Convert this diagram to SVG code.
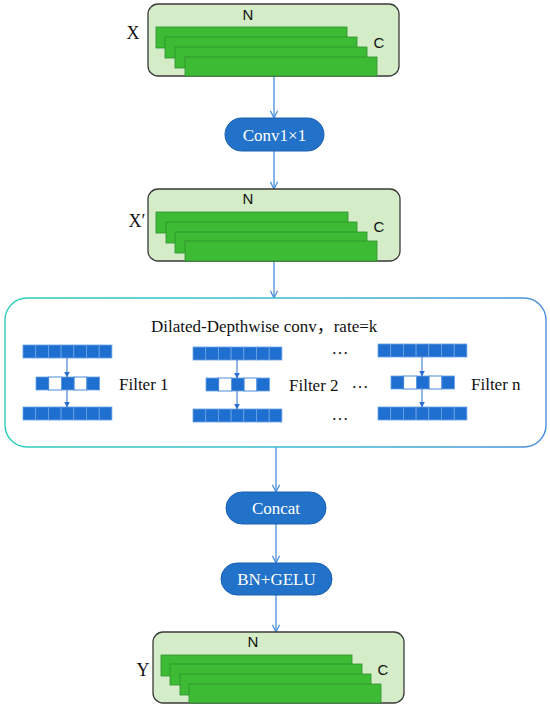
<svg xmlns="http://www.w3.org/2000/svg" xmlns:xlink="http://www.w3.org/1999/xlink" width="550" height="709" viewBox="0 0 550 709">
<style>
.box{fill:#d4ecc7;stroke:#3a3a3a;stroke-width:1.3}
.bar{fill:#3dbb35;stroke:#2d8f2d;stroke-width:0.8}
.lbl{font-family:"Liberation Sans","Open Sans",sans-serif;font-size:15px;fill:#111}
.ser{font-family:"Liberation Serif","Noto Sans CJK SC",serif;fill:#111}
.pill{fill:#2372c9;stroke:#1a5fb0;stroke-width:1}
.pt{font-family:"Liberation Serif",serif;font-size:17px;fill:#fff;text-anchor:middle}
.con{stroke:#4a8fdc;stroke-width:1.3;fill:none}
.ia{stroke:#2a6fd0;stroke-width:1;fill:none}
.cell{fill:#1f6fd0;stroke:#6aa3e6;stroke-width:0.8}
.wc{fill:#fff;stroke:#1f6fd0;stroke-width:0.8}
</style>
<defs>
<linearGradient id="gb" x1="0" y1="0" x2="1" y2="0">
<stop offset="0" stop-color="#2fcdb8"/>
<stop offset="0.6" stop-color="#3bb8d2"/>
<stop offset="1" stop-color="#4a8fdc"/>
</linearGradient>
<marker id="ah" viewBox="0 0 10 10" refX="9" refY="5" markerWidth="9" markerHeight="9" markerUnits="userSpaceOnUse" orient="auto">
<path d="M1,1 L9,5 L1,9" fill="none" stroke="#4a8fdc" stroke-width="1.4"/>
</marker>
<marker id="ta" viewBox="0 0 10 10" refX="9" refY="5" markerWidth="6" markerHeight="6" markerUnits="userSpaceOnUse" orient="auto">
<path d="M0,0 L10,5 L0,10 Z" fill="#2a6fd0"/>
</marker>
<g id="row7">
<rect class="cell" x="0" y="0" width="12.7" height="13"/>
<rect class="cell" x="12.7" y="0" width="12.7" height="13"/>
<rect class="cell" x="25.4" y="0" width="12.7" height="13"/>
<rect class="cell" x="38.1" y="0" width="12.7" height="13"/>
<rect class="cell" x="50.8" y="0" width="12.7" height="13"/>
<rect class="cell" x="63.5" y="0" width="12.7" height="13"/>
<rect class="cell" x="76.2" y="0" width="12.7" height="13"/>
</g>
<g id="row5">
<rect class="cell" x="0" y="0" width="12.7" height="13"/>
<rect class="wc" x="12.7" y="0" width="12.7" height="13"/>
<rect class="cell" x="25.4" y="0" width="12.7" height="13"/>
<rect class="wc" x="38.1" y="0" width="12.7" height="13"/>
<rect class="cell" x="50.8" y="0" width="12.7" height="13"/>
</g>
</defs>
<rect width="550" height="709" fill="#fff"/>

<g id="connectors">
<line class="con" x1="274" y1="76" x2="274" y2="118" marker-end="url(#ah)"/>
<line class="con" x1="274" y1="151" x2="274" y2="189" marker-end="url(#ah)"/>
<line class="con" x1="274" y1="261" x2="274" y2="298" marker-end="url(#ah)"/>
<line class="con" x1="276" y1="447" x2="276" y2="492" marker-end="url(#ah)"/>
<line class="con" x1="276" y1="524" x2="276" y2="563" marker-end="url(#ah)"/>
<line class="con" x1="276" y1="595" x2="276" y2="632" marker-end="url(#ah)"/>
</g>

<g id="X">
<rect class="box" x="148" y="4" width="251" height="72" rx="10"/>
<rect class="bar" x="156" y="27" width="191" height="21"/>
<rect class="bar" x="165" y="37" width="192" height="21"/>
<rect class="bar" x="175" y="47" width="192" height="21"/>
<rect class="bar" x="185" y="57" width="192" height="19"/>
<text class="lbl" x="248" y="20" text-anchor="middle">N</text>
<text class="lbl" x="379" y="48" text-anchor="middle">C</text>
<text class="ser" x="133" y="39" font-size="18" text-anchor="middle">X</text>
</g>

<g id="conv">
<rect class="pill" x="225" y="118" width="99" height="33" rx="16.5"/>
<text class="pt" x="274.5" y="140.5">Conv1×1</text>
</g>

<g id="Xp">
<rect class="box" x="148" y="189" width="252" height="72" rx="10"/>
<rect class="bar" x="156" y="212" width="192" height="21"/>
<rect class="bar" x="166" y="222" width="191" height="21"/>
<rect class="bar" x="175" y="232" width="192" height="21"/>
<rect class="bar" x="185" y="241" width="192" height="20"/>
<text class="lbl" x="248" y="204" text-anchor="middle">N</text>
<text class="lbl" x="379" y="232" text-anchor="middle">C</text>
<text class="ser" x="137" y="227" font-size="18" text-anchor="middle">X′</text>
</g>

<g id="dilated">
<rect x="5" y="298" width="541" height="149" rx="22" fill="#fff" stroke="url(#gb)" stroke-width="1.4"/>
<text class="ser" x="151" y="332" font-size="17">Dilated-Depthwise conv，rate=k</text>
<use xlink:href="#row7" x="23" y="345"/>
<use xlink:href="#row5" x="36" y="377"/>
<use xlink:href="#row7" x="23" y="407"/>
<line class="ia" x1="67" y1="358" x2="67" y2="377" marker-end="url(#ta)"/>
<line class="ia" x1="67" y1="390" x2="67" y2="407" marker-end="url(#ta)"/>
<text class="ser" x="119" y="390" font-size="17">Filter 1</text>

<use xlink:href="#row7" x="193" y="347"/>
<use xlink:href="#row5" x="206" y="378"/>
<use xlink:href="#row7" x="193" y="409"/>
<line class="ia" x1="237" y1="360" x2="237" y2="378" marker-end="url(#ta)"/>
<line class="ia" x1="237" y1="391" x2="237" y2="409" marker-end="url(#ta)"/>
<text class="ser" x="289" y="391" font-size="17">Filter 2</text>

<text class="ser" x="340" y="354" font-size="17" text-anchor="middle">…</text>
<text class="ser" x="360" y="388" font-size="17" text-anchor="middle">…</text>
<text class="ser" x="340" y="420" font-size="17" text-anchor="middle">…</text>

<use xlink:href="#row7" x="378" y="344"/>
<use xlink:href="#row5" x="391" y="376"/>
<use xlink:href="#row7" x="378" y="407"/>
<line class="ia" x1="422" y1="357" x2="422" y2="376" marker-end="url(#ta)"/>
<line class="ia" x1="422" y1="389" x2="422" y2="407" marker-end="url(#ta)"/>
<text class="ser" x="471" y="390" font-size="17">Filter n</text>
</g>

<g id="concat">
<rect class="pill" x="226" y="492" width="100" height="32" rx="16"/>
<text class="pt" x="276" y="514">Concat</text>
</g>

<g id="bngelu">
<rect class="pill" x="221" y="563" width="111" height="32" rx="16"/>
<text class="pt" x="276.5" y="585">BN+GELU</text>
</g>

<g id="Y">
<rect class="box" x="153" y="632" width="251" height="71" rx="10"/>
<rect class="bar" x="161" y="655" width="191" height="21"/>
<rect class="bar" x="170" y="664" width="192" height="21"/>
<rect class="bar" x="180" y="674" width="191" height="21"/>
<rect class="bar" x="189" y="684" width="192" height="19"/>
<text class="lbl" x="253" y="647" text-anchor="middle">N</text>
<text class="lbl" x="383" y="675" text-anchor="middle">C</text>
<text class="ser" x="143" y="676" font-size="18" text-anchor="middle">Y</text>
</g>
</svg>
